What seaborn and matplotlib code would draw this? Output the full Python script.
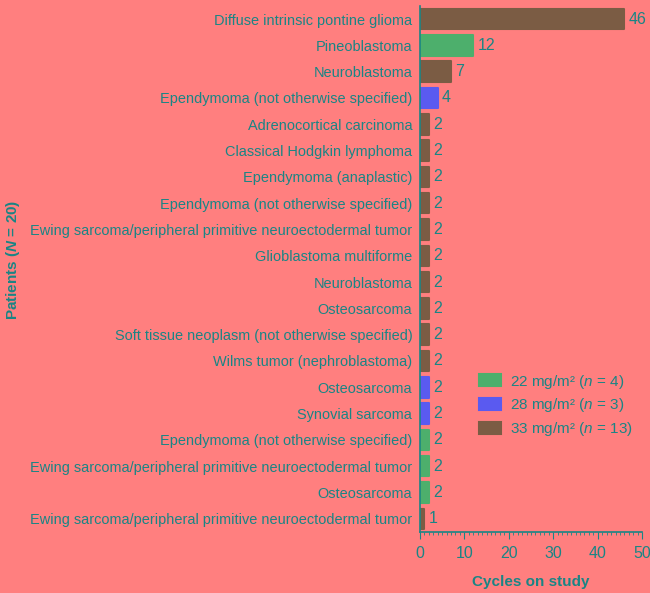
import pandas as pd
import seaborn as sns
import matplotlib.pyplot as plt
from matplotlib.ticker import MultipleLocator

tumors = [
    "Diffuse intrinsic pontine glioma",
    "Pineoblastoma",
    "Neuroblastoma",
    "Ependymoma (not otherwise specified)",
    "Adrenocortical carcinoma",
    "Classical Hodgkin lymphoma",
    "Ependymoma (anaplastic)",
    "Ependymoma (not otherwise specified)",
    "Ewing sarcoma/peripheral primitive neuroectodermal tumor",
    "Glioblastoma multiforme",
    "Neuroblastoma",
    "Osteosarcoma",
    "Soft tissue neoplasm (not otherwise specified)",
    "Wilms tumor (nephroblastoma)",
    "Osteosarcoma",
    "Synovial sarcoma",
    "Ependymoma (not otherwise specified)",
    "Ewing sarcoma/peripheral primitive neuroectodermal tumor",
    "Osteosarcoma",
    "Ewing sarcoma/peripheral primitive neuroectodermal tumor",
]
cycles = [46, 12, 7, 4, 2, 2, 2, 2, 2, 2, 2, 2, 2, 2, 2, 2, 2, 2, 2, 1]
dose = [33, 22, 33, 28, 33, 33, 33, 33, 33, 33, 33, 33, 33, 33, 28, 28, 22, 22, 22, 33]

dose_labels = {
    22: r"22 mg/m² ($\mathit{n}$ = 4)",
    28: r"28 mg/m² ($\mathit{n}$ = 3)",
    33: r"33 mg/m² ($\mathit{n}$ = 13)",
}
colors = {22: "#4daf6c", 28: "#5a5af0", 33: "#7b5c44"}

bg = "#ff7f7f"
teal = "#1a8585"

sns.set_style("ticks")
plt.rcParams["font.family"] = ["Liberation Sans", "DejaVu Sans"]
plt.rcParams["mathtext.fontset"] = "custom"
plt.rcParams["mathtext.rm"] = "Liberation Sans"
plt.rcParams["mathtext.it"] = "Liberation Sans:italic"
plt.rcParams["mathtext.bf"] = "Liberation Sans:bold"
plt.rcParams["mathtext.bfit"] = "Liberation Sans:italic:bold"

df = pd.DataFrame({
    "row": [str(i) for i in range(len(tumors))],
    "tumor": tumors,
    "cycles": cycles,
    "dose": [dose_labels[d] for d in dose],
})
palette = {dose_labels[k]: v for k, v in colors.items()}

fig = plt.figure(figsize=(6.5, 5.93), dpi=100, facecolor=bg)
ax = fig.add_axes([0.646, 0.103, 0.342, 0.887])
ax.set_facecolor(bg)

sns.barplot(data=df, x="cycles", y="row", hue="dose", palette=palette,
            hue_order=[dose_labels[22], dose_labels[28], dose_labels[33]],
            dodge=False, width=0.78, saturation=1, ax=ax)

for p in ax.patches:
    p.set_edgecolor(p.get_facecolor())
    p.set_linewidth(1.5)
    p.set_joinstyle("round")

for c in ax.containers:
    labels = [f"{int(v)}" if v > 0 else "" for v in c.datavalues]
    ax.bar_label(c, labels=labels, padding=3, color=teal, fontsize=11.5)

ax.set_yticks(range(len(tumors)))
ax.set_yticklabels(tumors, color=teal, fontsize=10.45)
ax.tick_params(axis="y", length=0, pad=5.5)
ax.set_ylim(len(tumors) - 0.5, -0.5)

ax.set_xlim(0, 50)
ax.xaxis.set_major_locator(MultipleLocator(10))
ax.xaxis.set_minor_locator(MultipleLocator(1))
ax.tick_params(axis="x", which="major", colors=teal, length=5, labelsize=11.5, pad=5)
ax.tick_params(axis="x", which="minor", colors=teal, length=2.5)

for s in ["top", "right"]:
    ax.spines[s].set_visible(False)
for s in ["left", "bottom"]:
    ax.spines[s].set_color(teal)
    ax.spines[s].set_linewidth(1.2)

ax.set_xlabel("Cycles on study", color=teal, fontsize=11, fontweight="bold", labelpad=10)
ax.set_ylabel("")
fig.text(0.006, 0.562, r"Patients ($\mathbfit{N}$ = 20)", rotation=90, color=teal,
         fontsize=11, fontweight="bold", ha="left", va="center")

leg = ax.legend(loc="lower right", bbox_to_anchor=(1.02, 0.152), frameon=False,
                fontsize=11, handlelength=1.45, handleheight=0.8, labelspacing=0.38,
                handletextpad=0.6)
for t in leg.get_texts():
    t.set_color(teal)

fig.savefig("out.png", dpi=100, facecolor=bg)
